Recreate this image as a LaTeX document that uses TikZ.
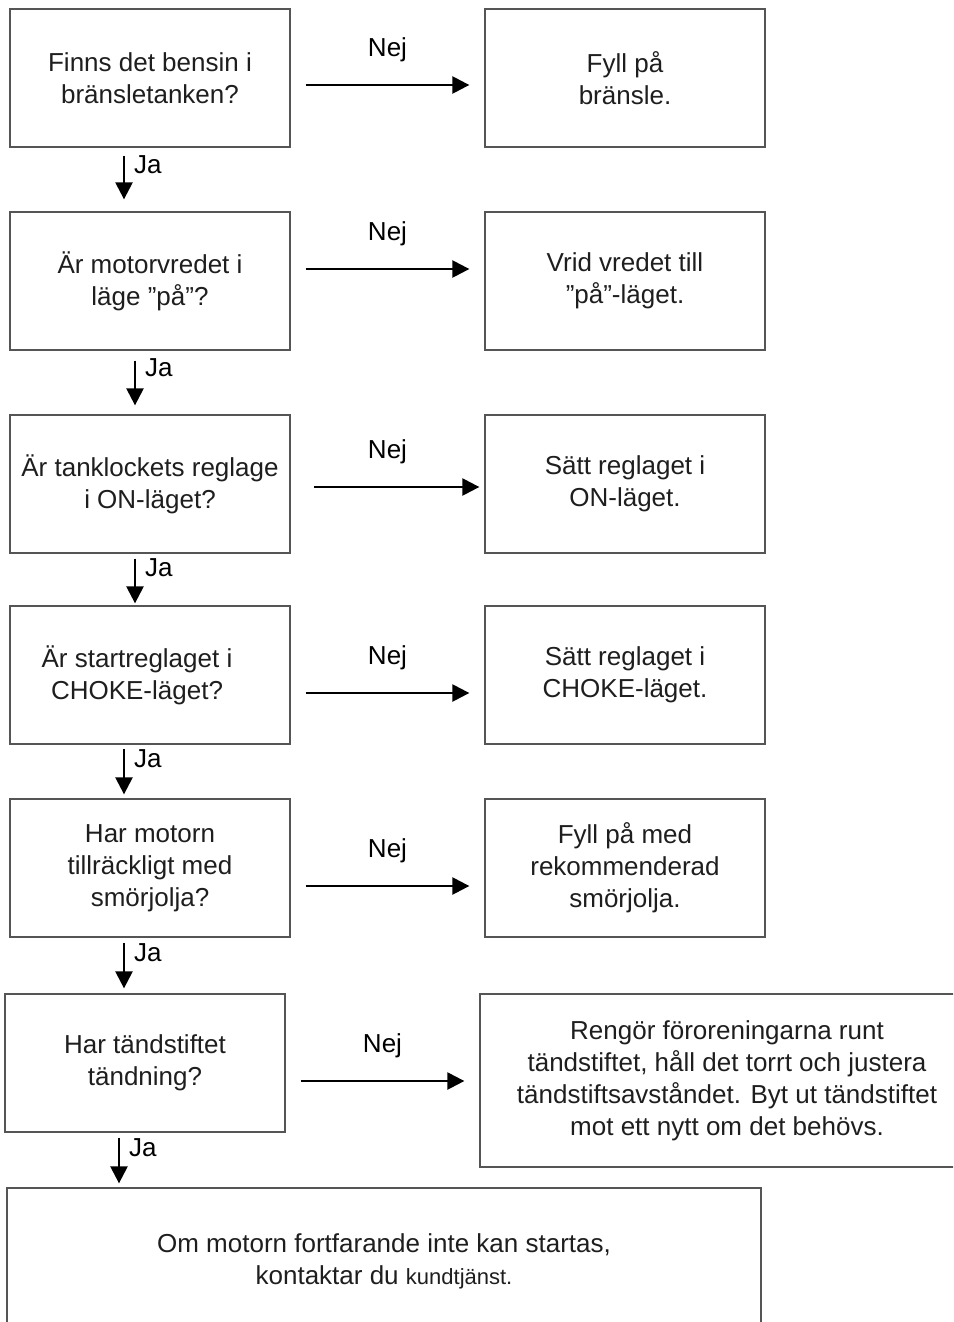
\documentclass[tikz,border=0pt]{standalone}
\usepackage{fontspec}
\setmainfont{Liberation Sans}
\usetikzlibrary{arrows.meta}
\definecolor{boxline}{HTML}{555555}
\definecolor{txt}{HTML}{1E1E1E}
\begin{document}
\begin{tikzpicture}[x=1pt, y=-1pt, >={Triangle[length=17pt,width=17pt]},
    font=\fontsize{26}{32}\selectfont, text=txt,
    box/.style={draw=boxline, line width=1.3pt, align=center, minimum width=280pt, minimum height=138pt, inner sep=0pt},
    flow/.style={->, line width=2.4pt, black},
    ja/.style={right, pos=.27, inner sep=3pt, xshift=6pt},
    nej/.style={midway, above=19pt}]
\useasboundingbox (0,0) rectangle (953,1322);
\clip (0,0) rectangle (953,1322);

% fragor till vanster
\node[box] (q1) at (150,78) {Finns det bensin i\\bränsletanken?};
\node[box] (q2) at (150,281) {Är motorvredet i\\läge ”på”?};
\node[box] (q3) at (150,484) {Är tanklockets reglage\\i ON-läget?};
\node[box] (q4) at (150,675) {\hspace*{-26pt}Är startreglaget i\\\hspace*{-26pt}CHOKE-läget?};
\node[box] (q5) at (150,868) {Har motorn\\tillräckligt med\\smörjolja?};
\node[box] (q6) at (145,1063) {Har tändstiftet\\tändning?};

% atgarder till hoger
\node[box] (a1) at (625,78) {Fyll på\\bränsle.};
\node[box] (a2) at (625,281) {Vrid vredet till\\”på”-läget.};
\node[box] (a3) at (625,484) {Sätt reglaget i\\ON-läget.};
\node[box] (a4) at (625,675) {Sätt reglaget i\\CHOKE-läget.};
\node[box] (a5) at (625,868) {Fyll på med\\rekommenderad\\smörjolja.};
\node[box, minimum width=494pt, minimum height=173pt] (a6) at (727,1080.5) {Rengör föroreningarna runt\\tändstiftet, håll det torrt och justera\\tändstiftsavståndet. Byt ut tändstiftet\\mot ett nytt om det behövs.};

\node[box, minimum width=754pt, minimum height=146pt] (end) at (384,1261) {Om motorn fortfarande inte kan startas,\\kontaktar du {\fontsize{22}{32}\selectfont kundtjänst.}};

% Nej
\draw[flow, shorten <=15pt, shorten >=15pt]([yshift=-7pt]q1.east)--([yshift=-7pt]q1.east -| a1.west)node[nej]{Nej};
\draw[flow, shorten <=15pt, shorten >=15pt]([yshift=12pt]q2.east)--([yshift=12pt]q2.east -| a2.west)node[nej]{Nej};
\draw[flow, shorten <=23pt, shorten >=5pt]([yshift=-3pt]q3.east)--([yshift=-3pt]q3.east -| a3.west)node[nej]{Nej};
\draw[flow, shorten <=15pt, shorten >=15pt]([yshift=-18pt]q4.east)--([yshift=-18pt]q4.east -| a4.west)node[nej]{Nej};
\draw[flow, shorten <=15pt, shorten >=15pt]([yshift=-18pt]q5.east)--([yshift=-18pt]q5.east -| a5.west)node[nej]{Nej};
\draw[flow, shorten <=15pt, shorten >=15pt]([yshift=-18pt]q6.east)--([yshift=-18pt]q6.east -| a6.west)node[nej]{Nej};

% Ja
\draw[flow, shorten <=8pt, shorten >=12pt]([xshift=-26pt]q1.south)--([xshift=-26pt]q1.south |- q2.north)node[ja]{Ja};
\draw[flow, shorten <=10pt, shorten >=9pt]([xshift=-15pt]q2.south)--([xshift=-15pt]q2.south |- q3.north)node[ja]{Ja};
\draw[flow, shorten <=5pt, shorten >=2pt]([xshift=-15pt]q3.south)--([xshift=-15pt]q3.south |- q4.north)node[ja]{Ja};
\draw[flow, shorten <=4pt, shorten >=4pt]([xshift=-26pt]q4.south)--([xshift=-26pt]q4.south |- q5.north)node[ja]{Ja};
\draw[flow, shorten <=5pt, shorten >=5pt]([xshift=-26pt]q5.south)--([xshift=-26pt]q5.south |- q6.north)node[ja]{Ja};
\draw[flow, shorten <=5pt, shorten >=4pt]([xshift=-26pt]q6.south)--([xshift=-26pt]q6.south |- end.north)node[ja]{Ja};
\end{tikzpicture}
\end{document}
